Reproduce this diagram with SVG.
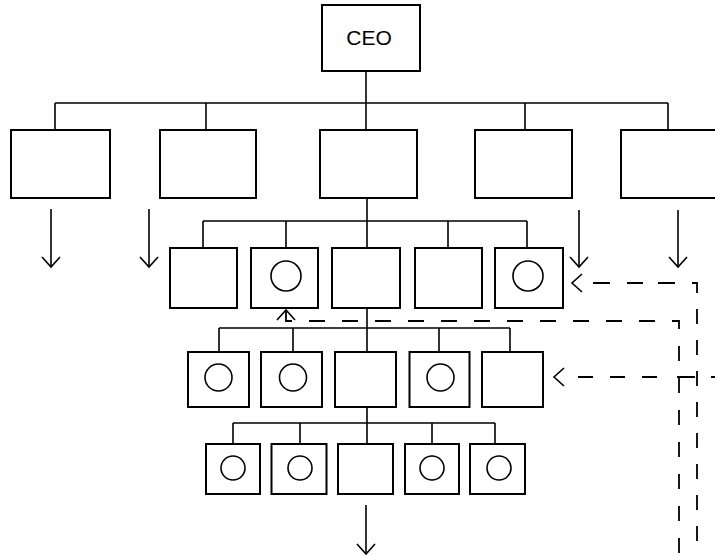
<svg xmlns="http://www.w3.org/2000/svg" width="715" height="556" viewBox="0 0 715 556">
  <style>
    .box { fill: #fff; stroke: #000; stroke-width: 2; }
    .unit { fill: none; stroke: #000; stroke-width: 1.6; }
    .link { fill: none; stroke: #000; stroke-width: 1.6; }
    .flow { fill: none; stroke: #000; stroke-width: 1.6; }
    .dash { fill: none; stroke: #000; stroke-width: 1.8; }
    .label { font-family: "Liberation Sans", Arial, sans-serif; font-size: 21px; fill: #000; text-anchor: middle; }
  </style>
  <defs>
    <marker id="open-arrow" markerUnits="userSpaceOnUse" viewBox="-12 -11 14 22" refX="0" refY="0" markerWidth="14" markerHeight="22" orient="auto">
      <path d="M-10,-9 L0,0 L-10,9" fill="none" stroke="#000" stroke-width="1.6"/>
    </marker>
  </defs>

  <!-- reporting lines -->
  <g id="connectors">
    <path class="link" d="M366 71 V103 M55 103 H668 M55 103 V130 M206 103 V130 M366 103 V130 M525 103 V130 M668 103 V130"/>
    <path class="link" d="M367 198 V221 M203 221 H527 M203 221 V248 M286 221 V248 M367 221 V248 M448 221 V248 M527 221 V248"/>
    <path class="link" d="M367 308 V328 M219 328 H510 M219 328 V352 M293 328 V352 M367 328 V352 M439 328 V352 M510 328 V352"/>
    <path class="link" d="M367 407 V423 M233 423 H495 M233 423 V444 M300 423 V444 M367 423 V444 M432 423 V444 M495 423 V444"/>

    <!-- downward flows -->
    <path class="flow" d="M51 209 V267" marker-end="url(#open-arrow)"/>
    <path class="flow" d="M149 209 V267" marker-end="url(#open-arrow)"/>
    <path class="flow" d="M579 210 V267" marker-end="url(#open-arrow)"/>
    <path class="flow" d="M678 210 V267" marker-end="url(#open-arrow)"/>
    <path class="flow" d="M366 505 V554" marker-end="url(#open-arrow)"/>

    <!-- dashed feedback routes -->
    <path class="dash" d="M692 283 H697 V556" stroke-dasharray="15 16"/>
    <path class="dash" d="M675 283 H572" stroke-dasharray="17 15 16 17 17 100" marker-end="url(#open-arrow)"/>

    <path class="dash" d="M672 321 H679 V556" stroke-dasharray="15 17"/>
    <path class="dash" d="M655 321 H286 V310" stroke-dasharray="16 17" marker-end="url(#open-arrow)"/>

    <path class="dash" d="M715 377 H554" stroke-dasharray="4 16 18 20 15 17 15 17 15 40" marker-end="url(#open-arrow)"/>
  </g>

  <!-- top -->
  <g id="ceo">
    <rect class="box" x="322" y="5" width="98" height="66"/>
    <text class="label" x="369" y="45">CEO</text>
  </g>

  <!-- level 1 -->
  <g id="div-1"><rect class="box" x="11" y="130" width="99" height="68"/></g>
  <g id="div-2"><rect class="box" x="160" y="130" width="96" height="68"/></g>
  <g id="div-3"><rect class="box" x="320" y="130" width="97" height="68"/></g>
  <g id="div-4"><rect class="box" x="475" y="130" width="97" height="68"/></g>
  <g id="div-5"><rect class="box" x="621" y="130" width="100" height="68"/></g>

  <!-- level 2 -->
  <g id="dept-1"><rect class="box" x="170" y="248" width="67" height="60"/></g>
  <g id="dept-2"><rect class="box" x="251" y="248" width="67" height="60"/><circle class="unit" cx="286" cy="276" r="15"/></g>
  <g id="dept-3"><rect class="box" x="332" y="248" width="68" height="60"/></g>
  <g id="dept-4"><rect class="box" x="415" y="248" width="67" height="60"/></g>
  <g id="dept-5"><rect class="box" x="495" y="248" width="68" height="60"/><circle class="unit" cx="528" cy="276" r="15"/></g>

  <!-- level 3 -->
  <g id="team-1"><rect class="box" x="188" y="352" width="61" height="55"/><circle class="unit" cx="218.5" cy="377.5" r="13.5"/></g>
  <g id="team-2"><rect class="box" x="261" y="352" width="61" height="55"/><circle class="unit" cx="293" cy="377.5" r="13.5"/></g>
  <g id="team-3"><rect class="box" x="335" y="352" width="61" height="55"/></g>
  <g id="team-4"><rect class="box" x="409.5" y="352" width="60" height="55"/><circle class="unit" cx="440.5" cy="377.5" r="13.5"/></g>
  <g id="team-5"><rect class="box" x="482" y="352" width="61" height="55"/></g>

  <!-- level 4 -->
  <g id="group-1"><rect class="box" x="206" y="444" width="54" height="50"/><circle class="unit" cx="233" cy="468" r="12"/></g>
  <g id="group-2"><rect class="box" x="271.5" y="444" width="55" height="50"/><circle class="unit" cx="300" cy="468" r="12"/></g>
  <g id="group-3"><rect class="box" x="338" y="444" width="55" height="50"/></g>
  <g id="group-4"><rect class="box" x="405" y="444" width="54" height="50"/><circle class="unit" cx="432" cy="468" r="12"/></g>
  <g id="group-5"><rect class="box" x="470" y="444" width="55" height="50"/><circle class="unit" cx="499" cy="468" r="12"/></g>
</svg>
